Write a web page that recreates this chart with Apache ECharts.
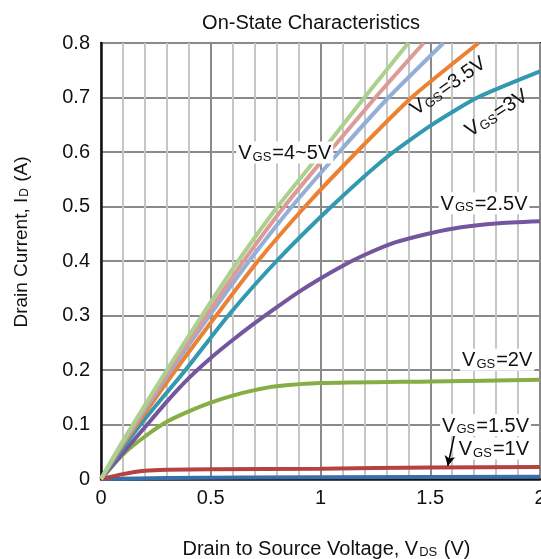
<!DOCTYPE html>
<html>
<head>
<meta charset="utf-8">
<title>On-State Characteristics</title>
<script src="https://cdn.jsdelivr.net/npm/echarts@6/dist/echarts.min.js"></script>
<style>
    html, body { margin: 0; padding: 0; background: #fff; }
    #chart { width: 541px; height: 559px; }
</style>
</head>
<body>
<div id="chart"></div>
<script>
// ID (A) against VDS (V), one array per gate voltage
var vgs5 = [[0, 0], [0.1, 0.07], [0.3, 0.2], [0.46, 0.3], [0.625, 0.4], [0.805, 0.5], [1.005, 0.6], [1.2, 0.7], [1.4, 0.8]];
var vgs45 = [[0, 0], [0.1, 0.068], [0.31, 0.2], [0.48, 0.3], [0.65, 0.4], [0.835, 0.5], [1.04, 0.6], [1.25, 0.7], [1.47, 0.8]];
var vgs4 = [[0, 0], [0.1, 0.066], [0.32, 0.2], [0.495, 0.3], [0.675, 0.4], [0.87, 0.5], [1.085, 0.6], [1.31, 0.7], [1.56, 0.8]];
var vgs35 = [[0, 0], [0.1, 0.063], [0.34, 0.2], [0.525, 0.3], [0.715, 0.4], [0.93, 0.5], [1.165, 0.6], [1.415, 0.7], [1.72, 0.8]];
var vgs3 = [[0, 0], [0.1, 0.057], [0.2, 0.11], [0.385, 0.2], [0.58, 0.3], [0.8, 0.4], [1.05, 0.5], [1.3, 0.59], [1.5, 0.648],
    [1.715, 0.7], [2.0, 0.748]];
var vgs25 = [[0, 0], [0.1, 0.048], [0.2, 0.095], [0.3, 0.142], [0.4, 0.185], [0.5, 0.222], [0.6, 0.255], [0.7, 0.286], [0.8, 0.315],
    [0.9, 0.343], [1.0, 0.368], [1.1, 0.391], [1.2, 0.411], [1.34, 0.434], [1.5, 0.451], [1.64, 0.462], [1.8, 0.469], [2.0, 0.473]];
var vgs2 = [[0, 0], [0.1, 0.045], [0.2, 0.078], [0.3, 0.105], [0.4, 0.124], [0.5, 0.14], [0.6, 0.153], [0.7, 0.163], [0.8, 0.17],
    [1.0, 0.176], [1.5, 0.179], [2.0, 0.182]];
var vgs15 = [[0, 0], [0.1, 0.009], [0.2, 0.015], [0.3, 0.017], [0.5, 0.018], [1.0, 0.019], [1.5, 0.021], [2.0, 0.022]];
var vgs1 = [[0, 0], [0.3, 0.002], [1.0, 0.003], [2.0, 0.004]];

// drawing order: low gate voltages first, like the original
var curves = [vgs1, vgs15, vgs2, vgs25, vgs3, vgs35, vgs4, vgs45, vgs5];
var curveNames = ['VGS=1V', 'VGS=1.5V', 'VGS=2V', 'VGS=2.5V', 'VGS=3V', 'VGS=3.5V', 'VGS=4V', 'VGS=4.5V', 'VGS=5V'];
var curveColors = ['#3a6ea8', '#b5423f', '#87ad45', '#74569e', '#3399b0', '#ec8132', '#93afd8', '#dc9b98', '#acd08e'];

// curve labels: text after the "V GS" part, anchor (VDS, ID), rotation
var labelTexts = ['=4~5V', '=3.5V', '=3V', '=2.5V', '=2V', '=1.5V', '=1V'];
var labelCoords = [[0.837, 0.599], [1.58, 0.722], [1.8, 0.672], [1.745, 0.506], [1.805, 0.219], [1.752, 0.099], [1.79, 0.056]];
var labelAngles = [0, 35, 33, 0, 0, 0, 0];
// arrow from the VGS=1V text down to its curve
var arrowFrom = [1.61, 0.081];
var arrowTo = [1.58, 0.024];

var FONT = '"Liberation Sans", Arial, sans-serif';

function subRich(big, small) {
    return {
        a: {fontSize: big, fontFamily: FONT, color: '#111', verticalAlign: 'bottom', lineHeight: big + 2},
        b: {fontSize: small, fontFamily: FONT, color: '#111', verticalAlign: 'bottom', lineHeight: big - 3, padding: [0, 1, 0, 1]}
    };
}

function buildSeries() {
    var list = [];
    for (var i = 0; i < curves.length; i++) {
        list.push({
            name: curveNames[i],
            type: 'line',
            data: curves[i],
            smooth: 0.2,
            showSymbol: false,
            symbol: 'none',
            clip: true,
            lineStyle: {color: curveColors[i], width: 4},
            z: 3
        });
    }

    var marks = [];
    for (var j = 0; j < labelTexts.length; j++) {
        marks.push({
            coord: labelCoords[j],
            symbol: 'rect',
            symbolSize: 1,
            itemStyle: {color: 'rgba(0,0,0,0)'},
            label: {
                show: true,
                position: 'inside',
                rotate: labelAngles[j],
                formatter: '{a|V}{b|GS}{a|' + labelTexts[j] + '}',
                backgroundColor: labelAngles[j] ? 'transparent' : '#fff',
                padding: [0, 2, 0, 2],
                rich: subRich(20, 13)
            }
        });
    }

    // empty carrier series, only for the annotations, drawn on top
    list.push({
        name: 'labels',
        type: 'line',
        data: [],
        z: 10,
        markPoint: {silent: true, animation: false, data: marks},
        markLine: {
            silent: true,
            animation: false,
            symbol: ['none', 'arrow'],
            symbolSize: [8, 10],
            label: {show: false},
            lineStyle: {color: '#000', width: 1.5, type: 'solid'},
            data: [[{coord: arrowFrom}, {coord: arrowTo}]]
        }
    });
    return list;
}

var chart = echarts.init(document.getElementById('chart'), null, {renderer: 'canvas'});

var option = {
    animation: false,
    backgroundColor: '#fff',
    title: {
        text: 'On-State Characteristics',
        left: 306,
        textAlign: 'center',
        top: 8,
        textStyle: {fontFamily: FONT, fontSize: 20, fontWeight: 'normal', color: '#111'}
    },
    grid: {
        left: 101,
        top: 43,
        right: 1,
        bottom: 80,
        show: true,
        borderColor: '#111',
        borderWidth: 2,
        containLabel: false,
        outerBoundsMode: 'none'
    },
    xAxis: {
        type: 'value',
        min: 0,
        max: 2,
        interval: 0.5,
        name: '{a|Drain to Source Voltage, V}{b|DS}{a| (V)}',
        nameLocation: 'middle',
        nameGap: 58,
        nameTextStyle: {rich: subRich(20, 13), padding: [0, 0, 0, 12]},
        axisLine: {lineStyle: {color: '#111', width: 2.5}},
        axisTick: {show: false},
        axisLabel: {fontFamily: FONT, fontSize: 20, color: '#111', margin: 9},
        splitLine: {lineStyle: {color: '#8a8a8a', width: 2}},
        minorTick: {show: false, splitNumber: 5},
        minorSplitLine: {show: true, lineStyle: {color: '#c6c6c6', width: 2}}
    },
    yAxis: {
        type: 'value',
        min: 0,
        max: 0.8,
        interval: 0.1,
        name: '{a|Drain Current, I}{b|D}{a| (A)}',
        nameLocation: 'middle',
        nameGap: 70,
        nameRotate: 90,
        nameTextStyle: {rich: subRich(19, 12), padding: [0, 0, 0, 38]},
        axisLine: {lineStyle: {color: '#111', width: 2.5}},
        axisTick: {show: false},
        axisLabel: {fontFamily: FONT, fontSize: 20, color: '#111', margin: 11},
        splitLine: {lineStyle: {color: '#8a8a8a', width: 2}}
    },
    series: buildSeries()
};

chart.setOption(option);
</script>
</body>
</html>
